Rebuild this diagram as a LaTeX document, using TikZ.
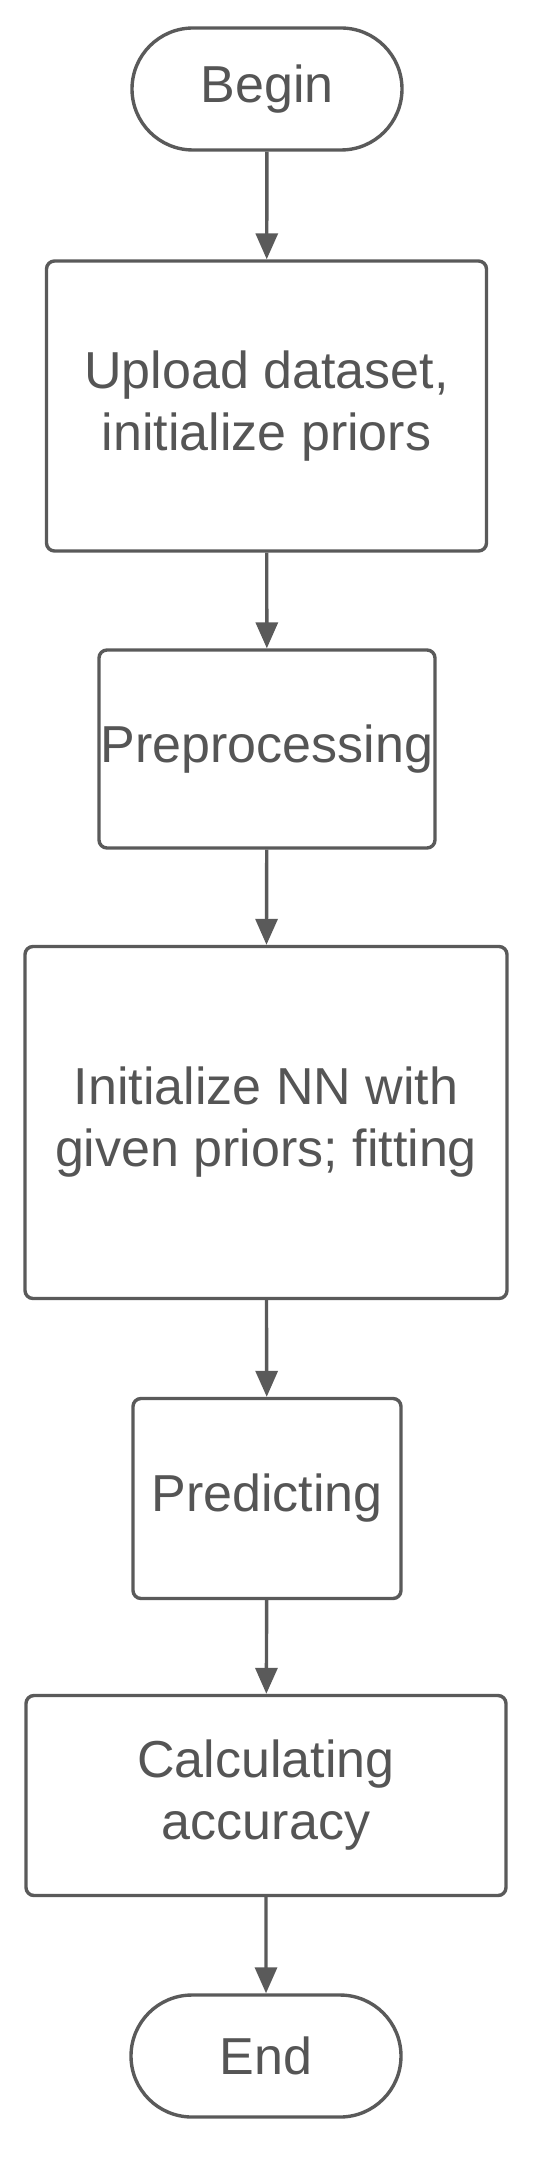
\documentclass[tikz,border=0pt]{standalone}
\usepackage{fontspec}
\setmainfont{Liberation Sans}
\setsansfont{Liberation Sans}
\usetikzlibrary{shapes.misc, arrows.meta}
\definecolor{linegray}{RGB}{90, 90, 90}
\definecolor{textgray}{RGB}{85, 85, 85}

\begin{document}
\begin{tikzpicture}[
      x=0.5pt, y=-0.5pt,
      font=\sffamily\fontsize{26}{31}\selectfont,
      terminal/.style={rounded rectangle, draw=linegray, line width=1.7pt, text=textgray, minimum width=135pt, minimum height=61pt, inner sep=0pt},
      process/.style={rectangle, rounded corners=4pt, draw=linegray, line width=1.7pt, text=textgray, align=center, inner sep=0pt},
      flow/.style={-{Triangle[length=13pt, width=11pt]}, line width=1.7pt, draw=linegray}
  ]
  \useasboundingbox (0,0) rectangle (549,2166);

  % Start / stop
  \node[terminal] (start) at (267,89) {Begin};
  \node[terminal] (stop) at (266,2056) {End};

  % Steps
  \node[process, minimum width=220pt, minimum height=145pt] (upload) at (266.5,406) {Upload dataset,\\initialize priors};
  \node[process, minimum width=168pt, minimum height=99pt] (prep) at (267,749) {Preprocessing};
  \node[process, minimum width=241pt, minimum height=176pt] (fitnn) at (266,1122.5) {Initialize NN with\\given priors; fitting};
  \node[process, minimum width=134pt, minimum height=100pt] (predict) at (267,1498.5) {Predicting};
  \node[process, minimum width=240pt, minimum height=100pt] (accur) at (266,1795.5) {Calculating\\accuracy};

  % Flow
  \draw[flow] (start) -- (upload);
  \draw[flow] (upload) -- (prep);
  \draw[flow] (prep) -- (fitnn);
  \draw[flow] (fitnn) -- (predict);
  \draw[flow] (predict) -- (accur);
  \draw[flow] (accur) -- (stop);

\end{tikzpicture}
\end{document}
